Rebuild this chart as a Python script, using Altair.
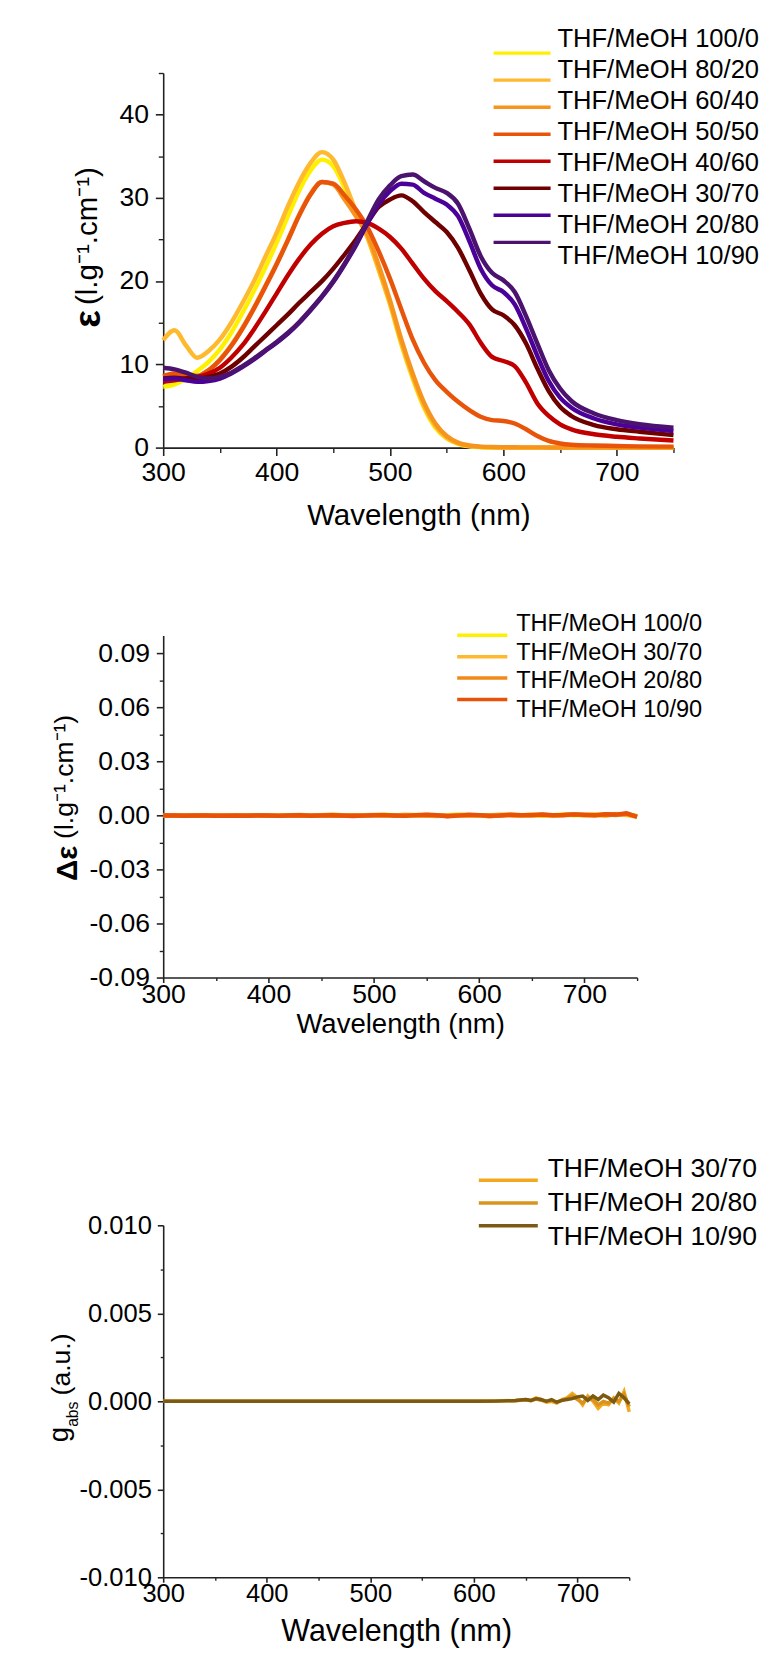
import altair as alt
import pandas as pd

FONT = "Liberation Sans"
AX = "#222222"

# ---------------- Panel 1 : absorption ----------------
wl1 = [300, 310, 320, 330, 340, 350, 360, 370, 380, 390,
       400, 410, 420, 430, 440, 450, 460, 470, 480, 490,
       500, 510, 520, 530, 540, 550, 560, 570, 580, 590,
       600, 610, 620, 630, 640, 650, 660, 680, 700, 720, 750]
names1 = ["THF/MeOH 100/0", "THF/MeOH 80/20", "THF/MeOH 60/40", "THF/MeOH 50/50",
          "THF/MeOH 40/60", "THF/MeOH 30/70", "THF/MeOH 20/80", "THF/MeOH 10/90"]
colors1 = ["#FFF000", "#FFB92E", "#F7941D", "#E8550A", "#C00000", "#6E0000", "#4A0099", "#4B136E"]

eps_100_0 = [7.3, 7.6, 8.3, 9.2, 10.3, 11.8, 13.8, 16.2, 18.8, 21.6,
             24.6, 27.8, 30.9, 33.3, 34.6, 33.8, 31.2, 28.2, 25.3, 21.4,
             17.2, 12.4, 8.3, 4.8, 2.4, 1.1, 0.45, 0.15, 0.05, 0.02,
             0.01, 0.0, 0.0, 0.0, 0.0, 0.0, 0.0, 0.0, 0.0, 0.0, 0.0]
eps_80_20 = [12.9, 14.1, 12.3, 10.8, 11.6, 13.0, 15.0, 17.4, 20.0, 22.9,
             25.8, 29.0, 31.9, 34.2, 35.5, 34.6, 31.8, 28.4, 25.3, 21.4,
             17.3, 12.6, 8.5, 5.0, 2.6, 1.2, 0.5, 0.2, 0.08, 0.03,
             0.02, 0.01, 0.0, 0.0, 0.0, 0.0, 0.0, 0.0, 0.0, 0.0, 0.0]
eps_60_40 = [8.5, 8.8, 8.7, 8.6, 9.3, 10.6, 12.3, 14.4, 16.8, 19.4,
             22.1, 25.0, 28.0, 30.5, 31.9, 31.6, 29.8, 27.8, 25.6, 21.9,
             17.7, 13.0, 8.9, 5.4, 2.9, 1.4, 0.6, 0.25, 0.12, 0.07,
             0.05, 0.04, 0.03, 0.03, 0.02, 0.02, 0.02, 0.01, 0.01, 0.01, 0.01]
eps_50_50 = [8.6, 8.9, 8.8, 8.6, 9.3, 10.5, 12.2, 14.3, 16.7, 19.3,
             22.0, 24.9, 27.9, 30.4, 31.9, 31.7, 30.3, 28.6, 26.5, 23.6,
             20.3, 16.6, 13.0, 10.2, 8.1, 6.7, 5.5, 4.5, 3.7, 3.3,
             3.2, 2.9, 2.2, 1.4, 0.8, 0.5, 0.35, 0.25, 0.2, 0.15, 0.12]
eps_40_60 = [7.9, 8.1, 8.3, 8.5, 8.9, 9.6, 10.8, 12.3, 14.2, 16.3,
             18.5, 20.7, 22.7, 24.4, 25.7, 26.6, 27.0, 27.2, 27.0, 26.3,
             25.3, 23.9, 22.1, 20.3, 18.8, 17.6, 16.3, 14.8, 12.6, 10.9,
             10.4, 9.8, 7.8, 5.3, 3.8, 2.8, 2.2, 1.6, 1.3, 1.1, 0.85]
eps_30_70 = [8.3, 8.4, 8.3, 8.3, 8.5, 8.9, 9.7, 10.8, 12.1, 13.4,
             14.7, 16.0, 17.4, 18.7, 20.0, 21.5, 23.2, 25.0, 27.0, 28.9,
             29.8, 30.3, 29.6, 28.3, 27.1, 25.9, 24.0, 21.3, 18.5, 16.6,
             15.9, 14.7, 12.5, 9.5, 6.8, 4.9, 3.8, 2.7, 2.2, 1.9, 1.5]
eps_20_80 = [8.2, 8.3, 8.1, 7.9, 8.0, 8.3, 8.9, 9.7, 10.6, 11.6,
             12.6, 13.7, 15.0, 16.5, 18.1, 19.9, 22.0, 24.3, 26.9, 29.2,
             30.8, 31.7, 31.6, 30.6, 29.9, 29.2, 27.8, 24.8, 21.5, 19.5,
             18.7, 17.2, 14.3, 11.0, 8.0, 6.0, 4.8, 3.5, 2.8, 2.4, 2.0]
eps_10_90 = [9.6, 9.4, 9.0, 8.5, 8.3, 8.5, 9.0, 9.8, 10.7, 11.7,
             12.7, 13.8, 15.1, 16.6, 18.2, 20.0, 22.1, 24.5, 27.2, 29.8,
             31.5, 32.6, 32.8, 32.0, 31.2, 30.6, 29.3, 26.3, 23.0, 21.0,
             20.1, 18.7, 15.8, 12.5, 9.3, 7.1, 5.6, 4.1, 3.3, 2.8, 2.4]
series1 = [eps_100_0, eps_80_20, eps_60_40, eps_50_50, eps_40_60, eps_30_70, eps_20_80, eps_10_90]

# ---------------- Panel 2 : CD ----------------
wl2 = [300, 310, 320, 330, 340, 350, 360, 370, 380, 390,
       400, 410, 420, 430, 440, 450, 460, 470, 480, 490,
       500, 510, 520, 530, 540, 550, 560, 570, 580, 590,
       600, 610, 620, 630, 640, 650, 660, 670, 680, 690,
       700, 710, 720, 730, 740, 750]
names2 = ["THF/MeOH 100/0", "THF/MeOH 30/70", "THF/MeOH 20/80", "THF/MeOH 10/90"]
colors2 = ["#FFF000", "#FFB92E", "#F28A1A", "#E6520A"]
de_100_0 = [0.0000, 0.0001, 0.0000, 0.0002, 0.0001, 0.0000, -0.0001, 0.0000, 0.0001, 0.0000,
            0.0000, -0.0001, 0.0001, 0.0002, 0.0001, 0.0000, 0.0003, 0.0001, -0.0001, 0.0000,
            0.0002, 0.0004, 0.0001, 0.0000, 0.0003, 0.0002, -0.0002, 0.0001, 0.0004, 0.0002,
            0.0000, -0.0003, 0.0002, 0.0004, 0.0001, 0.0003, -0.0001, 0.0002, 0.0005, 0.0001,
            0.0003, 0.0006, 0.0002, 0.0007, 0.0004, -0.0003]
de_30_70 = [0.0000, -0.0001, 0.0001, 0.0000, 0.0002, 0.0001, -0.0001, 0.0001, 0.0000, 0.0002,
            0.0001, 0.0000, 0.0002, 0.0003, 0.0000, 0.0001, 0.0004, 0.0002, 0.0000, 0.0001,
            0.0003, 0.0002, 0.0000, 0.0004, 0.0001, 0.0000, -0.0003, 0.0002, 0.0003, 0.0000,
            -0.0002, 0.0001, 0.0004, 0.0002, 0.0000, 0.0005, 0.0002, -0.0002, 0.0004, 0.0006,
            0.0001, 0.0004, -0.0002, 0.0008, 0.0003, -0.0008]
de_20_80 = [0.0001, 0.0000, 0.0000, -0.0001, 0.0000, 0.0001, 0.0000, -0.0002, 0.0000, 0.0001,
            -0.0001, 0.0000, 0.0001, 0.0000, -0.0001, 0.0002, 0.0001, -0.0002, 0.0001, 0.0000,
            0.0001, 0.0003, -0.0001, 0.0002, 0.0000, 0.0003, 0.0001, -0.0003, 0.0002, 0.0004,
            0.0001, -0.0004, 0.0001, 0.0003, 0.0000, 0.0002, 0.0004, 0.0000, 0.0001, 0.0005,
            0.0002, 0.0000, 0.0006, 0.0003, 0.0009, -0.0006]
de_10_90 = [0.0000, 0.0000, -0.0001, 0.0000, 0.0000, -0.0002, -0.0001, 0.0000, -0.0001, 0.0000,
            0.0000, -0.0002, 0.0000, 0.0001, -0.0001, 0.0000, 0.0001, 0.0000, -0.0003, -0.0001,
            0.0001, 0.0002, 0.0000, -0.0002, 0.0002, 0.0004, 0.0001, -0.0004, -0.0001, 0.0003,
            0.0002, -0.0001, 0.0000, 0.0004, 0.0002, 0.0001, 0.0005, 0.0002, 0.0003, 0.0006,
            0.0004, 0.0002, 0.0007, 0.0005, 0.0012, -0.0007]
series2 = [de_100_0, de_30_70, de_20_80, de_10_90]

# ---------------- Panel 3 : g_abs ----------------
wl3 = [300, 350, 400, 450, 500, 550, 600, 620, 640, 650,
       655, 660, 665, 670, 675, 680, 685, 690, 695, 700,
       705, 710, 715, 720, 725, 730, 735, 740, 745, 750]
names3 = ["THF/MeOH 30/70", "THF/MeOH 20/80", "THF/MeOH 10/90"]
colors3 = ["#F4A81D", "#D8941E", "#7C5A12"]
g_30_70 = [0, 0, 0, 0, 0, 0, 0, 0.00002, 0.00005, 0.0001,
           0.00005, 0.0002, 0.0001, -0.00005, 0.0, -0.0001, 0.0001, 0.0002, 0.00045, 0.0002,
           -0.0002, 0.0003, 0.0, -0.0004, -0.0001, -0.0002, 0.0002, -0.0001, 0.00055, -0.0006]
g_20_80 = [0, 0, 0, 0, 0, 0, 0, 0.00001, 0.00003, 0.00008,
           0.00003, 0.00012, 0.00005, 0.0, 0.00005, -0.00005, 0.00005, 0.00015, 0.0003, 0.0001,
           -0.0001, 0.0002, 0.0001, -0.0002, 0.0, -0.0001, 0.00015, 0.0, 0.0004, -0.0003]
g_10_90 = [0, 0, 0, 0, 0, 0, 0, 0.00001, 0.00005, 0.0001,
           0.00005, 0.00015, 0.0001, 0.0, 0.0001, -0.00005, 0.00005, 0.0001, 0.00015, 0.00025,
           0.0003, 0.00005, 0.0003, 0.0001, 0.00035, 0.0002, -0.00005, 0.00045, 0.0002, -0.00015]
series3 = [g_30_70, g_20_80, g_10_90]

x_major = [300, 400, 500, 600, 700]
x_minor = [350, 450, 550, 650, 750]


def long_table(wl, names, series):
    rows = []
    for name, vals in zip(names, series):
        for w, v in zip(wl, vals):
            rows.append({"wl": w, "v": v, "name": name})
    return pd.DataFrame(rows)


def lab_expr(d):
    f = "'.%df'" % d
    return "datum.value < 0 ? '-' + format(-datum.value, %s) : format(datum.value, %s)" % (f, f)


ONE = pd.DataFrame({"k": [0]})


def make_panel(df, names, colors, W, H, box, ydom, ymaj, ymin, ydec,
               ytick, ypad, xtick, xpad, lab_fs, xt_fs, xt_y,
               leg_x1, leg_x2, leg_tx, leg_y0, leg_y1, leg_fs,
               titles, line_w, interp):
    L, T, B = box
    xs = alt.Scale(domain=[300, 750], nice=False, zero=False)
    ys = alt.Scale(domain=ydom, nice=False, zero=False)
    cs = alt.Scale(domain=names, range=colors)
    common = dict(domainColor=AX, domainWidth=1.6, tickColor=AX, tickWidth=1.6,
                  grid=False, labelFlush=False, labelOverlap=False)
    xaxis = alt.Axis(values=x_major, format="d", tickSize=xtick, labelPadding=xpad,
                     labelFontSize=lab_fs, labelFont=FONT, labelColor="black",
                     title="Wavelength (nm)", titleFont=FONT, titleFontSize=xt_fs,
                     titleFontWeight="normal", titleColor="black", titleY=xt_y,
                     titleBaseline="middle", orient="bottom", **common)
    yaxis = alt.Axis(values=ymaj, labelExpr=lab_expr(ydec), tickSize=ytick, labelPadding=ypad,
                     labelFontSize=lab_fs, labelFont=FONT, labelColor="black",
                     title=None, orient="left", **common)
    xminor = alt.Axis(values=x_minor, labels=False, domain=False, tickSize=max(xtick - 3, 3),
                      tickColor=AX, tickWidth=1.4, grid=False, title=None, orient="bottom")
    yminor = alt.Axis(values=ymin, labels=False, domain=False, tickSize=max(ytick - 3, 3),
                      tickColor=AX, tickWidth=1.4, grid=False, title=None, orient="left")

    # invisible frame fixing the panel's layout box
    frame = alt.Chart(ONE).mark_rule(color="white", strokeWidth=1).encode(
        x=alt.value(-L + 0.5), y=alt.value(-T), y2=alt.value(H + B))

    lines = alt.Chart(df).mark_line(strokeWidth=line_w, interpolate=interp).encode(
        x=alt.X("wl:Q", scale=xs, axis=xaxis),
        y=alt.Y("v:Q", scale=ys, axis=yaxis),
        color=alt.Color("name:N", scale=cs, legend=None),
    )
    minor = alt.Chart(df).mark_line(opacity=0).encode(
        x=alt.X("wl:Q", scale=xs, axis=xminor),
        y=alt.Y("v:Q", scale=ys, axis=yminor),
    )
    legdf = pd.DataFrame({"name": names})
    ly = alt.Y("name:N", scale=alt.Scale(domain=names, range=[leg_y0, leg_y1], padding=0), axis=None)
    leg_rule = alt.Chart(legdf).mark_rule(strokeWidth=3.5).encode(
        x=alt.value(leg_x1), x2=alt.value(leg_x2), y=ly,
        color=alt.Color("name:N", scale=cs, legend=None),
    )
    leg_text = alt.Chart(legdf).mark_text(align="left", baseline="middle", fontSize=leg_fs,
                                         font=FONT, color="black").encode(
        x=alt.value(leg_tx), y=ly, text="name:N")
    tlayers = []
    for (t, tx, ty, fs, fw, al) in titles:
        tlayers.append(alt.Chart(ONE).mark_text(angle=270, align=al, baseline="alphabetic",
                                                fontSize=fs, fontWeight=fw, font=FONT,
                                                color="black").encode(
            x=alt.value(tx), y=alt.value(ty), text=alt.value(t)))
    return alt.layer(frame, lines, minor, leg_rule, leg_text, *tlayers).resolve_scale(
        x="independent", y="independent").resolve_axis(
        x="independent", y="independent").properties(width=W, height=H)


df1 = long_table(wl1, names1, series1)
df2 = long_table(wl2, names2, series2)
df3 = long_table(wl3, names3, series3)

p1 = make_panel(df1, names1, colors1, 519, 381, (152, 59, 100),
                [0, 45], [0, 10, 20, 30, 40], [5, 15, 25, 35, 45], 0,
                8, 7, 8, 4, 27, 30, 69,
                336, 394, 401, -34, 186, 26,
                [("(l.g\u207b\u00b9.cm\u207b\u00b9)", -67, 236, 30, "normal", "left"),
                 ("\u03b5", -64, 241, 38, "bold", "right")],
                4.5, "monotone")
p2 = make_panel(df2, names2, colors2, 482, 348, (166, 89, 100),
                [-0.09, 0.10],
                [-0.09, -0.06, -0.03, 0.0, 0.03, 0.06, 0.09],
                [-0.075, -0.045, -0.015, 0.015, 0.045, 0.075], 2,
                7, 7, 5, -1, 27, 28, 48,
                299, 350, 359, -11, 76, 24,
                [("(l.g\u207b\u00b9.cm\u207b\u00b9)", -92, 207, 27, "normal", "left"),
                 ("\u0394\u03b5", -88, 214, 30, "bold", "right")],
                4.5, "linear")
p3 = make_panel(df3, names3, colors3, 474, 358, (134, 150, 78),
                [-0.01, 0.01],
                [-0.01, -0.005, 0.0, 0.005, 0.01],
                [-0.0075, -0.0025, 0.0025, 0.0075], 3,
                6, 6, 5, -1, 26, 31, 55,
                321, 381, 391, -57.5, 12, 27,
                [("(a.u.)", -95, 173, 27, "normal", "left"),
                 ("abs", -87, 205, 16, "normal", "left"),
                 ("g", -97, 205, 28, "normal", "right")],
                3.5, "linear")

chart = alt.concat(p1, p2, p3, columns=1, spacing=0, align="none").resolve_scale(
    x="independent", y="independent", color="independent").properties(
    padding=0, background="white").configure_view(strokeWidth=0)

chart.save("out.html", embed_options={"renderer": "svg", "actions": False})
